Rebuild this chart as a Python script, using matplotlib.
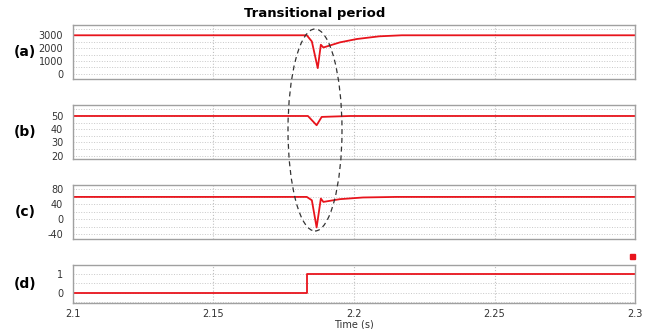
import matplotlib.pyplot as plt
from matplotlib.patches import Ellipse
from matplotlib.ticker import MultipleLocator

plt.rcParams['axes.unicode_minus'] = False

# panel (a) - speed
t_a = [2.1, 2.1832, 2.185, 2.1871, 2.1882, 2.1891, 2.195, 2.201, 2.209, 2.217, 2.3]
v_a = [3000, 3000, 2520, 445, 2265, 2050, 2450, 2710, 2920, 3000, 3000]

# panel (b) - frequency
t_b = [2.1, 2.1836, 2.1867, 2.1885, 2.1986, 2.3]
v_b = [50, 50, 43, 49.3, 50, 50]

# panel (c)
t_c = [2.1, 2.1832, 2.185, 2.1867, 2.1882, 2.1891, 2.195, 2.2032, 2.215, 2.3]
v_c = [60, 60, 51, -22, 55.6, 46.6, 54, 58.5, 60, 60]

# panel (d) - step signal
t_d = [2.1, 2.1832, 2.1832, 2.3]
v_d = [0, 0, 1, 1]

panels = [
    ('(a)', t_a, v_a, (-400, 3800), [0, 1000, 2000, 3000], 500),
    ('(b)', t_b, v_b, (17.5, 58.3), [20, 30, 40, 50], 5),
    ('(c)', t_c, v_c, (-53, 92), [-40, 0, 40, 80], 20),
    ('(d)', t_d, v_d, (-0.56, 1.5), [0, 1], 0.5),
]
# axes boxes in pixels (top, bottom)
boxes = [(25, 79), (105, 159), (185, 239), (265, 303)]

W, H = 653, 329
fig = plt.figure(figsize=(W / 100, H / 100), dpi=100)
red = '#e8141c'

for (lab, t, v, ylim, ticks, minor), (top, bot) in zip(panels, boxes):
    ax = fig.add_axes([73 / W, 1 - bot / H, (635 - 73) / W, (bot - top) / H])
    ax.plot(t, v, color=red, lw=1.3)
    ax.set_xlim(2.1, 2.3)
    ax.set_ylim(*ylim)
    ax.set_yticks(ticks)
    ax.yaxis.set_minor_locator(MultipleLocator(minor))
    ax.set_xticks([2.1, 2.15, 2.2, 2.25, 2.3])
    ax.grid(True, which='major', axis='x', color='#c0c0c0', ls=':', lw=0.8)
    ax.grid(True, which='minor', axis='y', color='#c8c8c8', ls=':', lw=0.7)
    ax.grid(True, which='major', axis='y', color='#c8c8c8', ls=':', lw=0.7)
    ax.tick_params(length=0, labelsize=7, colors='#333333', pad=7)
    ax.tick_params(axis='x', pad=4)
    ax.tick_params(which='minor', length=0)
    for s in ax.spines.values():
        s.set_color('#a0a0a0')
        s.set_linewidth(1.0)
    if lab != '(d)':
        ax.set_xticklabels([])
    else:
        ax.set_xticklabels(['2.1', '2.15', '2.2', '2.25', '2.3'])
        ax.set_xlabel('Time (s)', fontsize=7, labelpad=1, color='#333333')
    fig.text(25 / W, 1 - ((top + bot) / 2) / H, lab, fontsize=10, fontweight='bold',
             ha='center', va='center')

fig.text(315 / W, 1 - 14 / H, 'Transitional period', fontsize=9.5, fontweight='bold',
         ha='center', va='center')

# dashed ellipse around the transient
ell = Ellipse((315 / W, 1 - 130 / H), 54 / W, 202 / H, transform=fig.transFigure,
              fill=False, ls=(0, (4, 3)), lw=0.9, color='#333333')
fig.add_artist(ell)

# small red marker at the right
fig.add_artist(plt.Rectangle((630 / W, 1 - 259 / H), 5 / W, 5 / H,
                             transform=fig.transFigure, color=red))

fig.savefig('out.png', dpi=100)
